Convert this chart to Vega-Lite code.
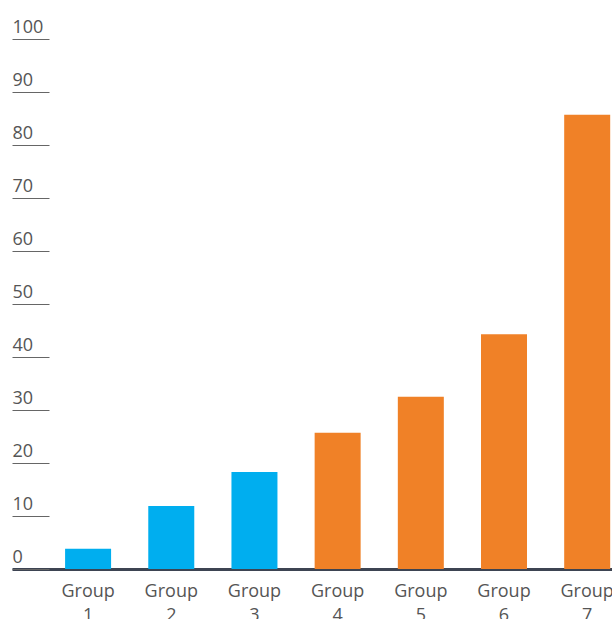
{
  "$schema": "https://vega.github.io/schema/vega-lite/v6.json",
  "width": 600,
  "height": 530,
  "autosize": "none",
  "padding": {"left": 12, "top": 39, "right": 0, "bottom": 50},
  "config": {
    "view": {"stroke": null},
    "font": "Open Sans"
  },
  "data": {
    "values": [
      {"group": "Group 1", "value": 3.8, "segment": "first"},
      {"group": "Group 2", "value": 11.9, "segment": "first"},
      {"group": "Group 3", "value": 18.3, "segment": "first"},
      {"group": "Group 4", "value": 25.7, "segment": "second"},
      {"group": "Group 5", "value": 32.5, "segment": "second"},
      {"group": "Group 6", "value": 44.3, "segment": "second"},
      {"group": "Group 7", "value": 85.7, "segment": "second"}
    ]
  },
  "mark": {"type": "bar"},
  "encoding": {
    "x": {
      "field": "group",
      "type": "nominal",
      "sort": null,
      "scale": {"paddingInner": 0.447, "paddingOuter": 0.33, "align": 0.967},
      "axis": {
        "title": null,
        "labelAngle": 0,
        "labelExpr": "split(datum.value, ' ')",
        "labelFont": "Open Sans",
        "labelFontSize": 18,
        "labelColor": "#555555",
        "labelLineHeight": 24,
        "labelPadding": 13,
        "ticks": false,
        "domainColor": "#3d4452",
        "domainWidth": 3
      }
    },
    "y": {
      "field": "value",
      "type": "quantitative",
      "scale": {"domain": [0, 100], "nice": false},
      "axis": {
        "title": null,
        "values": [0, 10, 20, 30, 40, 50, 60, 70, 80, 90, 100],
        "domain": false,
        "grid": false,
        "tickSize": -37,
        "tickColor": "#666666",
        "tickWidth": 1,
        "labelAlign": "left",
        "labelBaseline": "alphabetic",
        "labelOffset": -7,
        "labelPadding": 37,
        "labelFont": "Open Sans",
        "labelFontSize": 18,
        "labelColor": "#555555"
      }
    },
    "color": {
      "field": "segment",
      "type": "nominal",
      "scale": {"domain": ["first", "second"], "range": ["#00aeef", "#f08127"]},
      "legend": null
    }
  }
}
